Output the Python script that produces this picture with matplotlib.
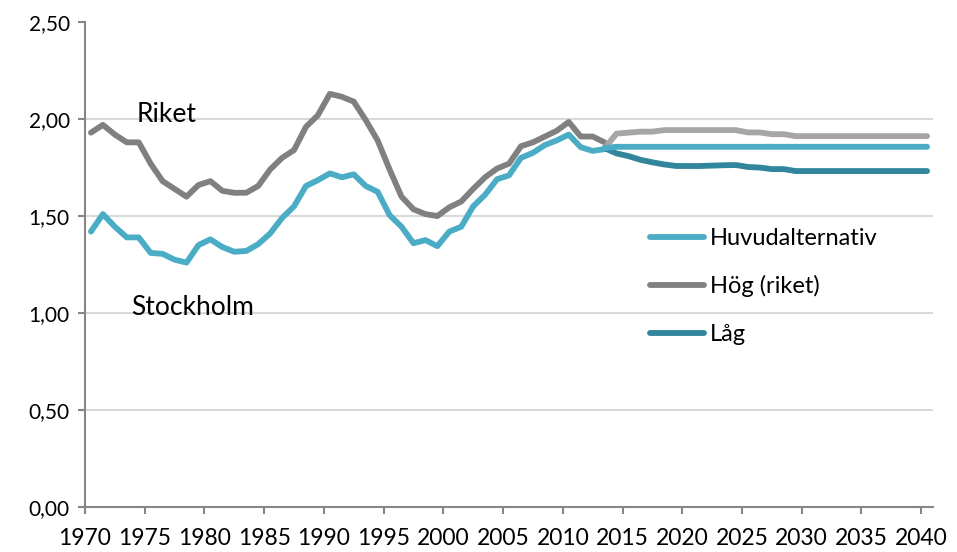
import matplotlib
matplotlib.use("Agg")
import matplotlib.pyplot as plt
from matplotlib.lines import Line2D
from matplotlib.ticker import FuncFormatter, MultipleLocator

plt.rcParams['font.family'] = ['Lato', 'DejaVu Sans']

# historik 1970-2013
years_hist = list(range(1970, 2014))
riket = [1.93, 1.97, 1.92, 1.88, 1.88, 1.77, 1.68, 1.64, 1.60, 1.66,
         1.68, 1.63, 1.62, 1.62, 1.655, 1.74, 1.80, 1.84, 1.96, 2.02,
         2.13, 2.115, 2.09, 1.995, 1.89, 1.74, 1.60, 1.535, 1.51, 1.50,
         1.545, 1.575, 1.64, 1.70, 1.745, 1.77, 1.86, 1.88, 1.91, 1.94,
         1.985, 1.91, 1.91, 1.88]
stockholm = [1.42, 1.51, 1.445, 1.39, 1.39, 1.31, 1.305, 1.275, 1.26, 1.35,
             1.38, 1.34, 1.316, 1.32, 1.355, 1.41, 1.49, 1.55, 1.655, 1.685,
             1.72, 1.70, 1.715, 1.655, 1.625, 1.505, 1.445, 1.36, 1.376, 1.345,
             1.42, 1.445, 1.55, 1.61, 1.69, 1.71, 1.80, 1.826, 1.866, 1.89,
             1.92, 1.855, 1.836, 1.845]

# prognos 2013-2040
years_prog = list(range(2013, 2041))
huvud = [1.85, 1.857, 1.857, 1.857, 1.857, 1.857, 1.857, 1.857, 1.857, 1.857,
         1.857, 1.857, 1.857, 1.857, 1.857, 1.857, 1.857, 1.857, 1.857, 1.857,
         1.857, 1.857, 1.857, 1.857, 1.857, 1.857, 1.857, 1.857]
hog = [1.85, 1.925, 1.93, 1.935, 1.935, 1.943, 1.943, 1.943, 1.943, 1.943,
       1.943, 1.943, 1.931, 1.931, 1.922, 1.922, 1.912, 1.912, 1.912, 1.912,
       1.912, 1.912, 1.912, 1.912, 1.912, 1.912, 1.912, 1.912]
lag = [1.85, 1.823, 1.809, 1.79, 1.777, 1.766, 1.758, 1.758, 1.758, 1.760,
       1.762, 1.763, 1.753, 1.75, 1.742, 1.742, 1.732, 1.732, 1.732, 1.732,
       1.732, 1.732, 1.732, 1.732, 1.732, 1.732, 1.732, 1.732]

xticks = list(range(1970, 2041, 5))

c_riket = '#808080'
c_hog = '#A6A6A6'
c_huvud = '#4BACC6'
c_lag = '#31859C'
axcol = '#868686'

fig = plt.figure(figsize=(9.57, 5.52), dpi=100)
ax = fig.add_axes([0.0888, 0.0815, 0.8862, 0.8785])

# punkterna ligger mitt i varje år
off = 0.5
lw = 4.2
ax.plot([y + off for y in years_hist], riket, color=c_riket, lw=lw, solid_capstyle='round', zorder=3)
ax.plot([y + off for y in years_hist], stockholm, color=c_huvud, lw=lw, solid_capstyle='round', zorder=3)
ax.plot([y + off for y in years_prog], hog, color=c_hog, lw=lw, solid_capstyle='round', zorder=3)
ax.plot([y + off for y in years_prog], lag, color=c_lag, lw=lw, solid_capstyle='round', zorder=3)
ax.plot([y + off for y in years_prog], huvud, color=c_huvud, lw=lw, solid_capstyle='round', zorder=4)

ax.set_xlim(1970, 2041)
ax.set_ylim(0, 2.5)
ax.yaxis.set_major_locator(MultipleLocator(0.5))
ax.yaxis.set_major_formatter(FuncFormatter(lambda v, p: ('%.2f' % v).replace('.', ',')))
ax.set_xticks(xticks)
ax.set_xticklabels([str(x) for x in xticks], fontsize=16.5)

for v in [0.5, 1.0, 1.5, 2.0]:
    ax.axhline(v, color='#D9D9D9', lw=1.5, zorder=1)

for s in ['top', 'right']:
    ax.spines[s].set_visible(False)
for s in ['left', 'bottom']:
    ax.spines[s].set_color(axcol)
    ax.spines[s].set_linewidth(1.5)
ax.tick_params(axis='both', colors=axcol, width=1.5, length=5, labelcolor='black')
ax.tick_params(axis='y', labelsize=15, pad=6)
ax.tick_params(axis='x', pad=10)

ax.text(1976.8, 2.026, 'Riket', fontsize=19, ha='center', va='center')
ax.text(1979.05, 1.026, 'Stockholm', fontsize=19, ha='center', va='center')

handles = [Line2D([], [], color=c_huvud, lw=lw, solid_capstyle='round'),
           Line2D([], [], color=c_riket, lw=lw, solid_capstyle='round'),
           Line2D([], [], color=c_lag, lw=lw, solid_capstyle='round')]
ax.legend(handles, ['Huvudalternativ', 'Hög (riket)', 'Låg'], loc='upper left',
          bbox_to_anchor=(0.652, 0.60), frameon=False, fontsize=17,
          handlelength=2.3, handletextpad=0.25, labelspacing=1.12, borderpad=0)

fig.savefig('out.png', dpi=100)
